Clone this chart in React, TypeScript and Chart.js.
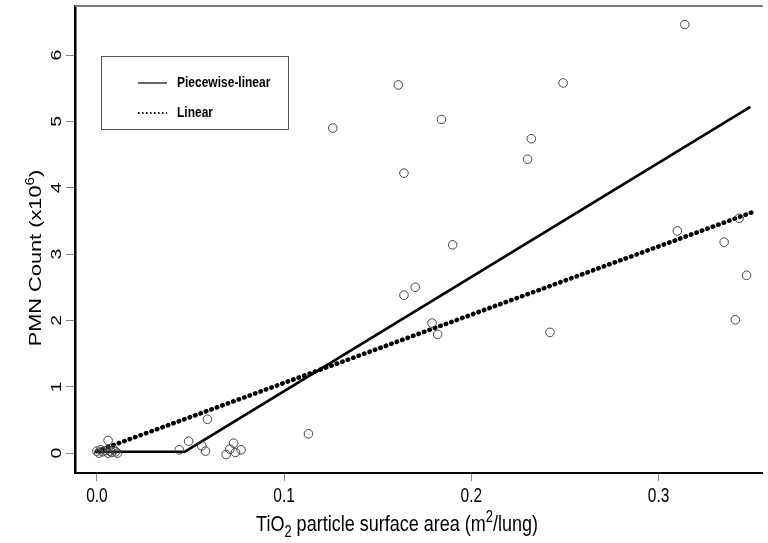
import React, { useEffect, useRef } from "react";
import { Chart, registerables } from "chart.js";

Chart.register(...registerables);

// Observed points: TiO2 surface area (m2/lung) vs PMN count (x10^6)
const obsX = [
  0.0, 0.001, 0.002, 0.003, 0.005, 0.006, 0.007, 0.008, 0.009, 0.01, 0.011, 0.006,
  0.044, 0.049, 0.056, 0.058, 0.059, 0.069, 0.071, 0.073, 0.074, 0.077, 0.113,
  0.126, 0.161, 0.164, 0.164, 0.17, 0.179, 0.182, 0.184, 0.19, 0.23, 0.232, 0.242,
  0.249, 0.31, 0.314, 0.335, 0.341, 0.343, 0.347,
];
const obsY = [
  0.03, 0.0, 0.05, 0.02, 0.04, 0.0, 0.03, 0.01, 0.05, 0.02, 0.0, 0.19,
  0.05, 0.18, 0.11, 0.03, 0.51, -0.02, 0.06, 0.15, 0.01, 0.05, 0.29,
  4.9, 5.55, 4.22, 2.38, 2.5, 1.96, 1.79, 5.03, 3.14, 4.43, 4.74, 1.82,
  5.58, 3.35, 6.46, 3.18, 2.01, 3.54, 2.68,
];

// Fitted models
const piecewiseX = [0.0, 0.047, 0.349];
const piecewiseY = [0.02, 0.02, 5.22];
const linearX = [0.0, 0.35];
const linearY = [0.03, 3.63];

const xTickValues = [0, 0.1, 0.2, 0.3];
const xTickLabels = ["0.0", "0.1", "0.2", "0.3"];
const yTickValues = [0, 1, 2, 3, 4, 5, 6];
const yTickLabels = ["0", "1", "2", "3", "4", "5", "6"];

const seriesNames = ["Piecewise-linear", "Linear"];
// Axis titles as segments: [text, shift] where shift -1 = subscript, 1 = superscript
const xTitleParts: [string, number][] = [
  ["TiO", 0], ["2", -1], [" particle surface area (m", 0], ["2", 1], ["/lung)", 0],
];
const yTitleParts: [string, number][] = [["PMN Count (x10", 0], ["6", 1], [")", 0]];

const FONT = "'Liberation Sans', Arial, Helvetica, sans-serif";
const VSTRETCH = 1.25;

function drawRich(ctx: CanvasRenderingContext2D, parts: [string, number][], size: number) {
  const small = Math.round(size * 0.72);
  let total = 0;
  const widths = parts.map(([t, s]) => {
    ctx.font = `${s === 0 ? size : small}px ${FONT}`;
    const w = ctx.measureText(t).width;
    total += w;
    return w;
  });
  let x = -total / 2;
  ctx.textAlign = "left";
  ctx.textBaseline = "alphabetic";
  const base = size * 0.36;
  parts.forEach(([t, s], i) => {
    ctx.font = `${s === 0 ? size : small}px ${FONT}`;
    const dy = s === 0 ? 0 : s > 0 ? -size * 0.42 : size * 0.28;
    ctx.fillText(t, x, base + dy);
    x += widths[i];
  });
}

const decorPlugin = {
  id: "decor",
  afterDraw(chart: any) {
    const ctx = chart.ctx as CanvasRenderingContext2D;
    const ca = chart.chartArea;
    const ys = chart.scales.y;
    const xs = chart.scales.x;
    ctx.save();
    // top border
    ctx.strokeStyle = "#7a7a7a";
    ctx.lineWidth = 2;
    ctx.beginPath();
    ctx.moveTo(ca.left, ca.top);
    ctx.lineTo(ca.right, ca.top);
    ctx.stroke();

    ctx.fillStyle = "#000";
    // x tick labels
    ctx.font = `15.5px ${FONT}`;
    ctx.textAlign = "center";
    ctx.textBaseline = "middle";
    xTickValues.forEach((v, i) => {
      const px = xs.getPixelForValue(v);
      ctx.save();
      ctx.translate(px, 497);
      ctx.scale(1, VSTRETCH);
      ctx.fillText(xTickLabels[i], 0, 0);
      ctx.restore();
    });

    // rotated y tick labels
    yTickValues.forEach((v, i) => {
      const py = ys.getPixelForValue(v);
      ctx.save();
      ctx.translate(57, py);
      ctx.rotate(-Math.PI / 2);
      ctx.scale(VSTRETCH, 1);
      ctx.fillText(yTickLabels[i], 0, 0);
      ctx.restore();
    });

    // axis titles
    ctx.save();
    ctx.translate(397, 523);
    ctx.scale(1, VSTRETCH);
    drawRich(ctx, xTitleParts, 18);
    ctx.restore();
    ctx.save();
    ctx.translate(35, 258);
    ctx.rotate(-Math.PI / 2);
    ctx.scale(1.28, 1);
    drawRich(ctx, yTitleParts, 17);
    ctx.restore();

    // legend
    const lx = 101, ly = 56, lw = 187, lh = 73;
    ctx.strokeStyle = "#555";
    ctx.lineWidth = 1;
    ctx.strokeRect(lx + 0.5, ly + 0.5, lw, lh);
    ctx.strokeStyle = "#000";
    ctx.lineWidth = 1.2;
    ctx.beginPath();
    ctx.moveTo(138, 83);
    ctx.lineTo(167, 83);
    ctx.stroke();
    ctx.setLineDash([1.5, 2.5]);
    ctx.lineWidth = 2;
    ctx.beginPath();
    ctx.moveTo(138, 113);
    ctx.lineTo(167, 113);
    ctx.stroke();
    ctx.setLineDash([]);
    ctx.font = `bold 12px ${FONT}`;
    ctx.textAlign = "left";
    ctx.textBaseline = "middle";
    [83, 113].forEach((yy, i) => {
      ctx.save();
      ctx.translate(177, yy);
      ctx.scale(1, 1.2);
      ctx.fillText(seriesNames[i], 0, 0);
      ctx.restore();
    });
    ctx.restore();
  },
};

export default function App() {
  const ref = useRef<HTMLCanvasElement | null>(null);
  useEffect(() => {
    if (!ref.current) return;
    const points = obsX.map((x, i) => ({ x, y: obsY[i] }));
    const pw = piecewiseX.map((x, i) => ({ x, y: piecewiseY[i] }));
    const lin = linearX.map((x, i) => ({ x, y: linearY[i] }));
    const chart = new Chart(ref.current, {
      type: "scatter",
      data: {
        datasets: [
          {
            label: seriesNames[1],
            data: lin,
            showLine: true,
            borderColor: "#000",
            borderWidth: 4.5,
            borderDash: [0.6, 5.2],
            borderCapStyle: "round",
            pointRadius: 0,
            order: 2,
          } as any,
          {
            label: seriesNames[0],
            data: pw,
            showLine: true,
            borderColor: "#000",
            borderWidth: 2.7,
            pointRadius: 0,
            order: 1,
          } as any,
          {
            label: "Observed",
            data: points,
            pointRadius: 4.3,
            pointBorderWidth: 1,
            borderColor: "#444",
            backgroundColor: "rgba(0,0,0,0)",
            pointStyle: "circle",
            order: 0,
          } as any,
        ],
      },
      options: {
        animation: false,
        responsive: false,
        devicePixelRatio: 1,
        layout: { padding: { left: 0, right: 0, top: 6, bottom: 0 } },
        plugins: {
          legend: { display: false },
          tooltip: { enabled: false },
        },
        scales: {
          x: {
            type: "linear",
            min: -0.0117,
            max: 0.3556,
            afterBuildTicks: (s: any) => {
              s.ticks = xTickValues.map((v) => ({ value: v }));
            },
            afterFit: (s: any) => {
              s.height = 70;
            },
            ticks: { display: false },
            grid: {
              drawOnChartArea: false,
              drawTicks: true,
              tickLength: 8,
              tickColor: "#888",
              tickWidth: 1,
            },
            border: { color: "#000", width: 2 },
          },
          y: {
            type: "linear",
            min: -0.3,
            max: 6.74,
            afterBuildTicks: (s: any) => {
              s.ticks = yTickValues.map((v) => ({ value: v }));
            },
            afterFit: (s: any) => {
              s.width = 75;
            },
            ticks: { display: false },
            grid: {
              drawOnChartArea: false,
              drawTicks: true,
              tickLength: 9,
              tickColor: "#888",
              tickWidth: 1,
            },
            border: { color: "#000", width: 2.5 },
          },
        },
      },
      plugins: [decorPlugin],
    });
    return () => chart.destroy();
  }, []);
  return (
    <div style={{ position: "absolute", left: 0, top: 0, width: 768, height: 543, background: "#fff" }}>
      <canvas ref={ref} width={768} height={543} />
    </div>
  );
}
